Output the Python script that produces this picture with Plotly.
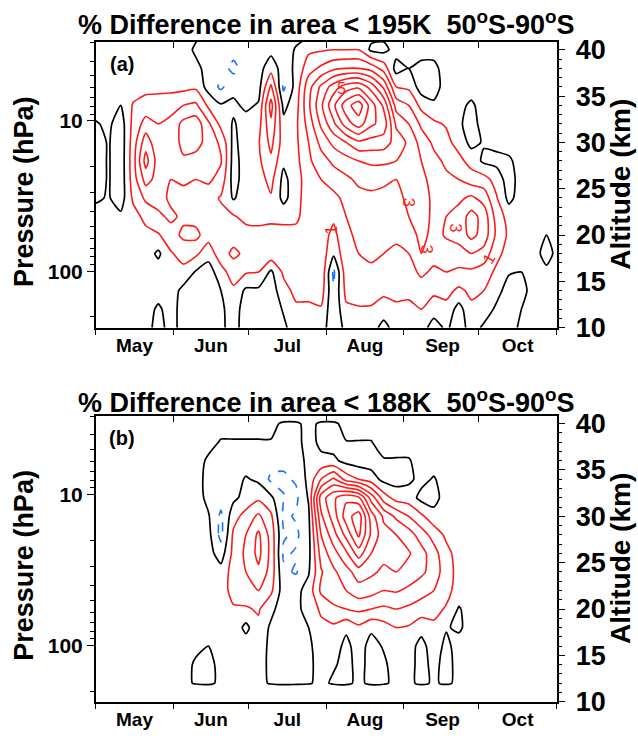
import plotly.graph_objects as go

# grid: days since 1 May, altitude (km)
days = [0, 5, 10, 15, 20, 25, 30, 35, 40, 45, 50, 55, 60, 65, 70, 75, 80, 85, 90,
        95, 100, 105, 110, 115, 120, 125, 130, 135, 140, 145, 150, 155, 160, 165,
        170, 175, 180, 185]
alt_195 = [10, 12, 14, 16, 18, 20, 22, 24, 26, 28, 30, 32, 34, 36, 38, 40, 42]
alt_188 = [11.7, 12, 14, 16, 18, 20, 22, 24, 26, 28, 30, 32, 34, 36, 38, 40, 40.5]

# % difference, one list per day (bottom -> top)
diff_195k = [
    [0.5, 0.5, 0.5, 0.5, 0.5, 0.5, 0.5, -0.2, -0.6, -0.6, -0.6, -0.1, 0.5, 0.5, 0.5, 0.5, 0.5],
    [0.5, 0.5, 0.5, 0.5, 0.5, 0.5, 0.4, 0.1, 0.1, 0.1, 0.1, 0.2, 0.4, 0.5, 0.5, 0.5, 0.5],
    [0.5, 0.5, 0.5, 0.5, 0.5, 0.5, 0.2, -0.5, -0.6, -0.6, -0.6, -0.5, 0.0, 0.5, 0.5, 0.5, 0.5],
    [0.5, 0.5, 0.5, 0.5, 0.5, 0.5, 0.6, 1.2, 1.5, 1.6, 1.5, 1.3, 1.1, 0.5, 0.5, 0.5, 0.5],
    [0.5, 0.5, 0.5, 0.5, 0.5, 0.7, 1.3, 2.2, 3.4, 4.4, 3.6, 2.4, 1.4, 0.7, 0.5, 0.5, 0.5],
    [-0.5, -0.2, 0.5, 0.5, -0.2, 0.9, 1.8, 2.4, 2.6, 2.5, 2.2, 2.0, 1.5, 0.7, 0.5, 0.5, 0.5],
    [0.5, 0.5, 0.5, 0.6, 0.9, 1.6, 2.2, 1.8, 2.0, 2.3, 2.2, 2.3, 1.6, 0.7, 0.5, 0.5, 0.5],
    [-0.5, -0.5, -0.3, 0.7, 1.4, 2.2, 1.8, 1.6, 2.2, 2.8, 3.4, 3.3, 2.0, 0.7, 0.5, 0.5, 0.5],
    [-0.3, -0.3, -0.3, -0.1, 1.2, 2.3, 1.6, 1.4, 2.0, 2.6, 3.4, 3.6, 2.2, 0.8, 0.3, -0.2, 0.3],
    [-0.6, -0.6, -0.6, -0.5, 0.4, 1.4, 1.3, 1.4, 2.2, 2.7, 2.6, 2.2, 0.8, -0.4, -0.4, -0.4, -0.4],
    [-0.2, -0.2, 0.0, 0.6, 1.6, 1.8, 1.3, 0.9, 1.6, 2.1, 1.8, 0.7, 0.1, -1.2, -0.5, -0.5, -0.5],
    [0.4, 0.5, 0.8, 1.5, 2.2, 1.6, 1.1, -0.1, -0.4, -0.4, -0.3, -0.1, 0.2, -0.3, -1.3, -0.6, -0.6],
    [-0.5, -0.5, -0.2, 1.1, 1.8, 1.4, 0.7, 0.5, 0.5, 0.5, 0.6, 0.4, -0.2, -0.5, -0.5, -0.5, -0.5],
    [-0.3, -0.3, -0.2, 1.0, 1.9, 1.3, 0.7, 0.6, 0.6, 0.8, 0.9, 0.6, 0.1, -0.4, -0.4, -0.4, -0.4],
    [-0.6, -0.6, -0.5, -0.2, 1.7, 1.3, 0.8, 0.9, 1.3, 1.8, 2.3, 2.8, 3.4, 2.2, 0.6, -0.3, -0.4],
    [-0.2, 0.1, 0.6, 1.2, 2.0, 1.5, 0.6, -0.3, -0.3, 0.2, 0.5, 0.3, -0.3, -1.2, -0.5, -0.5, -0.5],
    [0.5, 0.8, 1.3, 1.6, 1.5, 1.3, 0.8, 0.6, 0.6, 0.7, 0.8, 0.8, 0.6, 0.4, 0.2, 0.1, -0.4],
    [0.5, 0.8, 1.3, 1.5, 1.4, 1.3, 1.5, 1.6, 1.5, 1.8, 2.0, 2.4, 2.8, 2.6, 1.6, 0.8, -0.4],
    [0.5, 0.9, 1.5, 1.8, 1.6, 1.5, 1.6, 1.8, 2.0, 2.6, 3.3, 4.2, 4.8, 4.2, 2.2, 0.9, -0.4],
    [-0.7, -0.8, -0.9, -1.2, 0.2, 0.7, 1.2, 1.7, 2.5, 3.2, 4.3, 5.8, 6.8, 5.5, 2.8, 1.0, -0.3],
    [0.3, 0.8, 1.3, 1.6, 1.7, 1.8, 2.0, 2.3, 2.8, 3.6, 5.0, 7.5, 8.6, 6.5, 3.0, 1.0, -0.2],
    [0.5, 0.9, 1.5, 1.8, 2.0, 2.2, 2.4, 2.7, 3.2, 4.0, 5.8, 8.5, 9.6, 6.8, 3.0, 1.0, 0.4],
    [0.5, 0.9, 1.4, 1.9, 2.1, 2.3, 2.5, 2.8, 3.3, 4.2, 5.6, 7.2, 7.5, 5.6, 2.6, -0.2, 0.4],
    [-0.4, 0.6, 1.2, 1.8, 2.0, 2.2, 2.4, 2.7, 3.2, 4.2, 5.5, 6.6, 5.8, 3.8, 1.6, -0.3, 0.4],
    [0.5, 0.8, 1.3, 1.7, 1.9, 2.1, 2.3, 2.6, 3.0, 4.0, 4.6, 3.8, 2.6, 1.0, -0.4, 0.4, 0.5],
    [0.5, 0.8, 1.2, 1.6, 2.0, 2.5, 3.0, 3.3, 3.2, 3.4, 3.8, 3.0, 2.0, 0.8, 0.0, 0.5, 0.5],
    [0.5, 1.0, 1.5, 2.2, 3.0, 3.3, 3.4, 3.4, 3.3, 3.0, 2.6, 1.8, 0.7, -0.5, -0.3, 0.4, 0.5],
    [-0.5, 0.5, 1.2, 1.8, 2.4, 2.7, 2.8, 2.8, 2.6, 2.3, 1.8, 1.2, 0.2, -0.5, -0.3, 0.4, 0.5],
    [0.2, 0.7, 1.3, 2.0, 2.6, 3.1, 3.0, 2.6, 2.2, 1.8, 1.3, 0.9, 0.5, 0.5, 0.5, 0.5, 0.5],
    [-0.6, -0.4, 0.8, 1.8, 2.6, 3.4, 3.4, 2.8, 2.0, 1.3, 0.6, 0.2, 0.3, 0.5, 0.5, 0.5, 0.5],
    [0.5, 0.8, 1.2, 1.8, 3.0, 4.3, 4.4, 3.2, 1.5, 0.6, -0.3, -0.5, -0.2, 0.5, 0.5, 0.5, 0.5],
    [-0.2, 0.6, 1.0, 1.5, 2.6, 3.6, 3.6, 2.6, 1.4, -0.2, 0.1, 0.5, 0.5, 0.5, 0.5, 0.5, 0.5],
    [-0.3, -0.2, 0.4, 0.8, 1.3, 1.8, 1.6, 1.1, 0.6, -0.3, 0.3, 0.5, 0.5, 0.5, 0.5, 0.5, 0.5],
    [-0.6, -0.6, -0.5, 0.1, 0.6, 0.8, 0.6, -0.3, -0.5, -0.2, 0.5, 0.5, 0.5, 0.5, 0.5, 0.5, 0.5],
    [0.3, 0.0, -0.4, 0.0, 0.5, 0.5, 0.5, 0.5, 0.5, 0.5, 0.5, 0.5, 0.5, 0.5, 0.5, 0.5, 0.5],
    [0.5, 0.5, 0.5, 0.5, 0.5, 0.5, 0.5, 0.5, 0.5, 0.5, 0.5, 0.5, 0.5, 0.5, 0.5, 0.5, 0.5],
    [0.5, 0.5, 0.5, 0.3, -0.5, 0.0, 0.5, 0.5, 0.5, 0.5, 0.5, 0.5, 0.5, 0.5, 0.5, 0.5, 0.5],
    [0.5, 0.5, 0.5, 0.5, 0.5, 0.5, 0.5, 0.5, 0.5, 0.5, 0.5, 0.5, 0.5, 0.5, 0.5, 0.5, 0.5],
]

# panel (b), same layout of lists
diff_188k = [
    [0.5, 0.5, 0.5, 0.5, 0.5, 0.5, 0.5, 0.5, 0.5, 0.5, 0.5, 0.5, 0.5, 0.5, 0.5, 0.5, 0.5],
    [0.5, 0.5, 0.5, 0.5, 0.5, 0.5, 0.5, 0.5, 0.5, 0.5, 0.5, 0.5, 0.5, 0.5, 0.5, 0.5, 0.5],
    [0.5, 0.5, 0.5, 0.5, 0.5, 0.5, 0.5, 0.5, 0.5, 0.5, 0.5, 0.5, 0.5, 0.5, 0.5, 0.5, 0.5],
    [0.5, 0.5, 0.5, 0.5, 0.5, 0.5, 0.5, 0.5, 0.5, 0.5, 0.5, 0.5, 0.5, 0.5, 0.5, 0.5, 0.5],
    [0.5, 0.5, 0.5, 0.5, 0.5, 0.5, 0.5, 0.5, 0.5, 0.5, 0.5, 0.5, 0.5, 0.5, 0.5, 0.5, 0.5],
    [0.5, 0.5, 0.5, 0.5, 0.5, 0.5, 0.5, 0.5, 0.5, 0.5, 0.5, 0.5, 0.5, 0.5, 0.5, 0.5, 0.5],
    [0.5, 0.5, 0.5, 0.5, 0.5, 0.5, 0.5, 0.5, 0.5, 0.5, 0.5, 0.5, 0.5, 0.5, 0.5, 0.5, 0.5],
    [0.5, 0.5, 0.5, 0.5, 0.5, 0.5, 0.5, 0.5, 0.5, 0.5, 0.5, 0.5, 0.5, 0.5, 0.5, 0.5, 0.5],
    [0.5, -0.2, -0.2, 0.3, 0.5, 0.5, 0.5, 0.5, 0.5, 0.5, 0.5, 0.5, 0.5, 0.5, 0.5, 0.5, 0.5],
    [0.5, -0.5, -0.5, 0.0, 0.5, 0.5, 0.5, 0.5, 0.4, 0.3, 0.1, -0.3, -0.4, -0.2, 0.4, 0.5, 0.5],
    [0.5, 0.5, 0.5, 0.5, 0.5, 0.5, 0.6, 0.4, -0.5, -1.3, -1.2, -0.6, -0.6, -0.5, -0.1, 0.5, 0.5],
    [0.5, 0.5, 0.5, 0.6, 0.7, 0.9, 1.3, 1.4, 1.3, 1.2, 0.6, -0.2, -0.4, -0.5, -0.1, 0.5, 0.5],
    [0.5, 0.5, 0.5, 0.6, -0.3, 0.9, 1.5, 2.0, 2.2, 2.0, 1.4, 0.3, 0.1, -0.5, -0.1, 0.5, 0.5],
    [0.5, 0.5, 0.5, 0.6, 0.8, 1.1, 2.0, 2.8, 3.3, 3.2, 2.2, 0.8, -0.2, -0.5, -0.1, 0.5, 0.5],
    [0.5, -0.2, -0.3, -0.3, -0.2, 0.3, 1.2, 1.6, 1.7, 1.6, 1.2, 0.2, -1.2, -0.6, -0.1, 0.5, 0.5],
    [0.5, -0.6, -0.6, -0.5, -0.6, -0.6, -0.5, -0.8, -1.15, -0.9, -1.2, -0.95, -1.15, -0.8, -0.5, -0.3, 0.5],
    [0.5, -0.4, -0.5, -0.5, -0.4, -0.2, -0.3, -1.1, -0.9, -1.2, -0.9, -1.2, -0.9, -0.7, -0.4, -0.3, 0.5],
    [0.5, -0.2, -0.3, -0.2, 0.0, 0.3, 0.4, -0.1, -0.3, -0.3, -0.2, 0.1, 0.3, 0.4, 0.5, 0.5, 0.5],
    [0.5, 0.5, 0.5, 0.5, 0.7, 1.2, 2.2, 1.9, 2.4, 3.0, 3.8, 4.5, 2.0, 0.3, -0.3, -0.3, 0.5],
    [0.5, -0.3, 0.2, 0.5, 0.8, 1.8, 2.6, 2.8, 3.6, 4.6, 5.5, 5.8, 3.2, 0.2, -0.4, -0.3, 0.5],
    [0.5, -0.5, -0.5, -0.3, 0.2, 2.0, 3.0, 3.6, 4.8, 6.3, 7.5, 6.8, 1.6, -0.3, -0.05, 0.5, 0.5],
    [0.5, 0.5, 0.5, 0.5, 0.8, 2.2, 3.6, 4.5, 6.5, 8.2, 8.6, 6.2, 1.0, -0.5, -0.05, 0.5, 0.5],
    [0.5, -0.5, -0.5, -0.4, 0.2, 2.0, 3.4, 4.2, 5.0, 5.8, 5.5, 3.6, 0.5, -0.5, -0.05, 0.5, 0.5],
    [0.5, -0.3, -0.2, 0.1, 0.6, 1.8, 3.0, 3.8, 4.3, 4.4, 3.8, 1.5, -0.3, -0.1, 0.5, 0.5, 0.5],
    [0.5, 0.5, 0.5, 0.5, 1.0, 2.0, 3.1, 4.0, 4.5, 4.0, 2.8, 0.6, -0.4, -0.1, 0.5, 0.5, 0.5],
    [0.5, 0.5, 0.5, 0.5, 0.9, 1.8, 2.8, 3.6, 4.1, 3.5, 2.0, 0.5, -0.2, -0.1, 0.5, 0.5, 0.5],
    [0.5, -0.5, -0.5, -0.4, 0.4, 1.5, 2.4, 3.2, 3.4, 2.5, 1.2, -0.3, 0.3, 0.5, 0.5, 0.5, 0.5],
    [0.5, 0.3, 0.4, 0.6, 0.8, 1.3, 2.0, 2.6, 2.4, 1.6, 0.4, -0.4, -0.1, 0.5, 0.5, 0.5, 0.5],
    [0.5, -0.4, -0.5, -0.3, 0.1, 0.9, 1.3, 1.4, 1.3, 0.8, 0.5, 0.5, 0.5, 0.5, 0.5, 0.5, 0.5],
    [0.5, 0.5, 0.5, 0.5, -0.2, -0.1, 0.6, 0.7, 0.6, 0.5, 0.5, 0.5, 0.5, 0.5, 0.5, 0.5, 0.5],
    [0.5, 0.5, 0.5, 0.5, 0.5, 0.5, 0.5, 0.5, 0.5, 0.5, 0.5, 0.5, 0.5, 0.5, 0.5, 0.5, 0.5],
    [0.5, 0.5, 0.5, 0.5, 0.5, 0.5, 0.5, 0.5, 0.5, 0.5, 0.5, 0.5, 0.5, 0.5, 0.5, 0.5, 0.5],
    [0.5, 0.5, 0.5, 0.5, 0.5, 0.5, 0.5, 0.5, 0.5, 0.5, 0.5, 0.5, 0.5, 0.5, 0.5, 0.5, 0.5],
    [0.5, 0.5, 0.5, 0.5, 0.5, 0.5, 0.5, 0.5, 0.5, 0.5, 0.5, 0.5, 0.5, 0.5, 0.5, 0.5, 0.5],
    [0.5, 0.5, 0.5, 0.5, 0.5, 0.5, 0.5, 0.5, 0.5, 0.5, 0.5, 0.5, 0.5, 0.5, 0.5, 0.5, 0.5],
    [0.5, 0.5, 0.5, 0.5, 0.5, 0.5, 0.5, 0.5, 0.5, 0.5, 0.5, 0.5, 0.5, 0.5, 0.5, 0.5, 0.5],
    [0.5, 0.5, 0.5, 0.5, 0.5, 0.5, 0.5, 0.5, 0.5, 0.5, 0.5, 0.5, 0.5, 0.5, 0.5, 0.5, 0.5],
    [0.5, 0.5, 0.5, 0.5, 0.5, 0.5, 0.5, 0.5, 0.5, 0.5, 0.5, 0.5, 0.5, 0.5, 0.5, 0.5, 0.5],
]

month_names = ["May", "Jun", "Jul", "Aug", "Sep", "Oct"]
month_mid = [15.5, 46, 76.5, 107.5, 138.5, 168.5]
month_edges = [0, 31, 61, 92, 123, 153, 184]
alt_ticks = [10, 15, 20, 25, 30, 35, 40]
p_ticks = [10, 100]
p_minor = [3, 4, 5, 6, 7, 8, 9, 20, 30, 40, 50, 60, 70, 80, 90, 200]

FONT = "Liberation Sans, Arial, Helvetica, sans-serif"
W, H = 638, 742
xdom = [95.7 / W, 556.5 / W]
ydom_a = [1 - 331 / H, 1 - 37 / H]
ydom_b = [1 - 716 / H, 1 - 421.7 / H]

fig = go.Figure()


def add_panel(cols, alts, xa, ya):
    z = [list(r) for r in zip(*cols)]
    base = dict(x=days, y=alts, z=z, xaxis=xa, yaxis=ya, showscale=False,
                hoverinfo="skip", autocontour=False)
    fig.add_trace(go.Contour(**base, contours=dict(start=1, end=12, size=1, coloring="none"),
                             line=dict(color="#ff1a1a", width=1.6, smoothing=0.6)))
    fig.add_trace(go.Contour(**base, contours=dict(start=0, end=0.5, size=1, coloring="none"),
                             line=dict(color="black", width=1.7, smoothing=0.6)))
    fig.add_trace(go.Contour(**base, contours=dict(start=-3, end=-1, size=1, coloring="none"),
                             line=dict(color="#1f6fff", width=1.6, dash="dash", smoothing=0.6)))


add_panel(diff_195k, alt_195, "x", "y")
add_panel(diff_188k, alt_188, "x2", "y2")

# empty traces so the overlay axes get drawn
for xa, ya in [("x3", "y"), ("x", "y3"), ("x4", "y2"), ("x2", "y4")]:
    fig.add_trace(go.Scatter(x=[None], y=[None], xaxis=xa, yaxis=ya, showlegend=False))

line = dict(showline=True, linecolor="black", linewidth=1.5, showgrid=False, zeroline=False)


def month_axis(anchor):
    return dict(domain=xdom, anchor=anchor, range=[0, 184], tickmode="array",
                tickvals=month_mid, ticktext=month_names, ticks="",
                tickfont=dict(family=FONT, size=19, color="black", weight="bold"),
                minor=dict(tickmode="array", tickvals=month_edges, ticks="outside",
                           ticklen=6, tickwidth=1.2, tickcolor="black"), **line)


def top_axis(over, anchor):
    return dict(overlaying=over, anchor=anchor, side="top", range=[0, 184],
                tickmode="array", tickvals=month_edges, ticks="inside", ticklen=6,
                tickwidth=1.2, tickcolor="black", showticklabels=False, **line)


def alt_axis(dom, anchor):
    return dict(domain=dom, anchor=anchor, side="right", range=[10, 40.85],
                tickmode="array", tickvals=alt_ticks, ticks="outside", ticklen=7,
                tickwidth=1.2, tickcolor="black", ticklabelstandoff=5,
                tickfont=dict(family=FONT, size=27, color="black", weight="bold"),
                minor=dict(dtick=1, ticks="outside", ticklen=4, tickwidth=1, tickcolor="black"),
                **line)


def p_axis(over, anchor):
    return dict(overlaying=over, anchor=anchor, side="left", type="log",
                range=[2.372, 0.4755], tickmode="array", tickvals=p_ticks,
                ticktext=["10", "100"], ticks="outside", ticklen=7, tickwidth=1.2,
                tickcolor="black",
                tickfont=dict(family=FONT, size=21, color="black", weight="bold"),
                minor=dict(tickmode="array", tickvals=p_minor, ticks="outside",
                           ticklen=4, tickwidth=1, tickcolor="black"), **line)


fig.update_layout(
    width=W, height=H, autosize=False,
    margin=dict(l=0, r=0, t=0, b=0),
    paper_bgcolor="white", plot_bgcolor="white", showlegend=False,
    xaxis=month_axis("y"), xaxis2=month_axis("y2"),
    xaxis3=top_axis("x", "y"), xaxis4=top_axis("x2", "y2"),
    yaxis=alt_axis(ydom_a, "x"), yaxis2=alt_axis(ydom_b, "x2"),
    yaxis3=p_axis("y", "x"), yaxis4=p_axis("y2", "x2"),
)

bold = dict(family=FONT, color="black", weight="bold")
notes = [
    ("% Difference in area &lt; 195K\u00a0 50<sup>o</sup>S-90<sup>o</sup>S", 326.5, 18, 27, 0),
    ("% Difference in area &lt; 188K\u00a0 50<sup>o</sup>S-90<sup>o</sup>S", 326.5, 407, 27, 0),
    ("(a)", 121.5, 60, 20, 0),
    ("(b)", 121.5, 445, 20, 0),
    ("Pressure (hPa)", 24, 191.5, 27, -90),
    ("Pressure (hPa)", 24, 576, 27, -90),
    ("Altitude (km)", 621, 184, 28, -90),
    ("Altitude (km)", 621, 569, 28, -90),
]
for text, px, py, size, ang in notes:
    fig.add_annotation(text=text, x=px / W, y=1 - py / H, xref="paper", yref="paper",
                       showarrow=False, xanchor="center", yanchor="middle", textangle=ang,
                       font=dict(size=size, **bold))

# contour labels in panel (a)
for text, d, a, ang in [("5", 98, 35.8, 0), ("3", 125, 23.5, 90), ("3", 132, 18.5, 90),
                        ("3", 143.5, 20.8, 90), ("1", 94, 20.5, -90), ("1", 157, 17.5, -60)]:
    fig.add_annotation(text=text, x=d, y=a, xref="x", yref="y", showarrow=False,
                       textangle=ang, font=dict(family=FONT, size=16, color="#ff1a1a"))

fig.write_html("out.html", config={"displayModeBar": False},
               post_script="document.body.style.margin='0px';")
